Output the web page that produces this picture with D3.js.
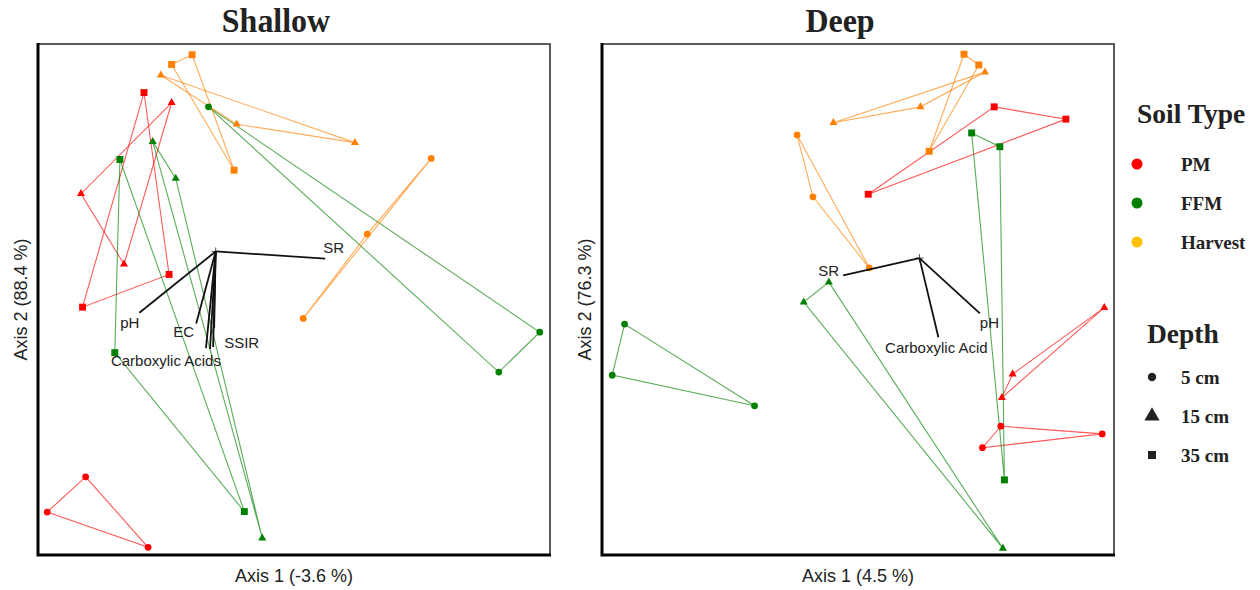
<!DOCTYPE html>
<html>
<head>
<meta charset="utf-8">
<script src="https://cdn.jsdelivr.net/npm/d3@7"></script>
<style>
  html, body { margin: 0; padding: 0; background: #fff; }
  svg { display: block; }
</style>
</head>
<body>
<svg id="chart" width="1260" height="590"></svg>
<script>
// ---- Data -----------------------------------------------------------------
// Each group (soil type x depth) has three replicate scores.
const soilTypes = ["PM", "FFM", "Harvest"];
const depthLabels = ["5 cm", "15 cm", "35 cm"];

const groupSoil  = ["PM", "PM", "PM", "FFM", "FFM", "FFM", "Harvest", "Harvest", "Harvest"];
const groupDepth = ["5 cm", "15 cm", "35 cm", "5 cm", "15 cm", "35 cm", "5 cm", "15 cm", "35 cm"];

// Shallow: site scores on axis 1 and axis 2, one triple per group
const shallowAxis1 = [
  [-0.407, -0.482, -0.285],
  [-0.239, -0.416, -0.332],
  [-0.293, -0.244, -0.413],
  [-0.167,  0.480,  0.400],
  [-0.276, -0.231, -0.062],
  [-0.340, -0.350, -0.097],
  [ 0.268,  0.143,  0.018],
  [-0.260, -0.112,  0.119],
  [-0.239, -0.199, -0.117]
];
const shallowAxis2 = [
  [-0.347, -0.416, -0.485],
  [ 0.385,  0.207,  0.069],
  [ 0.405,  0.049, -0.015],
  [ 0.377, -0.064, -0.142],
  [ 0.309,  0.237, -0.467],
  [ 0.274, -0.104, -0.415],
  [ 0.276,  0.128, -0.037],
  [ 0.439,  0.343,  0.307],
  [ 0.460,  0.479,  0.253]
];

// Deep: site scores
const deepAxis1 = [
  [ 0.279,  0.477,  0.243],
  [ 0.481,  0.302,  0.281],
  [ 0.020,  0.266,  0.406],
  [-0.456, -0.480, -0.202],
  [-0.057, -0.106,  0.283],
  [ 0.222,  0.277,  0.286],
  [-0.119, -0.088,  0.022],
  [-0.048,  0.122,  0.248],
  [ 0.207,  0.236,  0.139]
];
const deepAxis2 = [
  [-0.248, -0.263, -0.290],
  [-0.016, -0.146, -0.192],
  [ 0.206,  0.377,  0.353],
  [-0.048, -0.148, -0.208],
  [ 0.034, -0.005, -0.487],
  [ 0.326,  0.299, -0.353],
  [ 0.322,  0.201,  0.062],
  [ 0.346,  0.377,  0.445],
  [ 0.480,  0.459,  0.290]
];

// Environmental vectors (origin + tips)
const shallowVecOrigin = [-0.153, 0.094];
const shallowVecNames = ["SR", "pH", "EC", "SSIR", "Carboxylic Acids", "", ""];
const shallowVecAxis1 = [0.061, -0.302, -0.191, -0.156, -0.172, -0.164, -0.158];
const shallowVecAxis2 = [0.080, -0.026, -0.047, -0.056, -0.095, -0.097, -0.093];

const deepVecOrigin = [0.120, 0.081];
const deepVecNames = ["SR", "pH", "Carboxylic Acid"];
const deepVecAxis1 = [-0.029, 0.238, 0.157];
const deepVecAxis2 = [0.047, -0.027, -0.074];

const panelTitles = ["Shallow", "Deep"];
const axis1Labels = ["Axis 1 (-3.6 %)", "Axis 1 (4.5 %)"];
const axis2Labels = ["Axis 2 (88.4 %)", "Axis 2 (76.3 %)"];

// ---- Styling ----------------------------------------------------------------
const soilColor = d3.scaleOrdinal().domain(soilTypes).range(["#ff0000", "#008000", "#ff8000"]);
const legendSoilColor = d3.scaleOrdinal().domain(soilTypes).range(["#ff0000", "#008000", "#ffc000"]);
const depthSymbol = d3.scaleOrdinal().domain(depthLabels)
  .range([d3.symbolCircle, d3.symbolTriangle, d3.symbolSquare]);
const depthSize = d3.scaleOrdinal().domain(depthLabels).range([36, 28, 48]);

// label placement relative to a vector tip: [dx, dy, anchor]
const vecLabelStyle = [
  {
    "SR": [-2, -6, "start"], "pH": [0, 15, "end"], "EC": [-2, 13, "end"],
    "SSIR": [10, 20, "start"], "Carboxylic Acids": [-40, 18, "middle"]
  },
  {
    "SR": [-4, 1, "end"], "pH": [0, 15, "start"], "Carboxylic Acid": [-2, 16, "middle"]
  }
];

const sansFont = "'Liberation Sans', Arial, sans-serif";
const serifFont = "'Liberation Serif', 'Times New Roman', serif";

const svg = d3.select("#chart");

const panels = [
  { left: 38, axis1: shallowAxis1, axis2: shallowAxis2,
    origin: shallowVecOrigin, names: shallowVecNames, vx: shallowVecAxis1, vy: shallowVecAxis2 },
  { left: 602, axis1: deepAxis1, axis2: deepAxis2,
    origin: deepVecOrigin, names: deepVecNames, vx: deepVecAxis1, vy: deepVecAxis2 }
];

const plotTop = 44, plotBottom = 555, plotWidth = 512;

panels.forEach((p, pi) => {
  const x = d3.scaleLinear().domain([-0.5, 0.5]).range([p.left, p.left + plotWidth]);
  const y = d3.scaleLinear().domain([-0.5, 0.5]).range([plotBottom, plotTop]);
  const g = svg.append("g");

  // groups of points
  const groups = groupSoil.map((soil, i) => ({
    soil, depth: groupDepth[i],
    pts: p.axis1[i].map((v, k) => [v, p.axis2[i][k]])
  }));

  // polygons joining replicates
  const line = d3.line().x(d => x(d[0])).y(d => y(d[1]));
  g.selectAll("path.hull").data(groups).join("path")
    .attr("class", "hull")
    .attr("d", d => line(d.pts) + "Z")
    .attr("fill", "none")
    .attr("stroke", d => soilColor(d.soil))
    .attr("stroke-opacity", 0.65)
    .attr("stroke-width", 1.1);

  // site markers
  const pts = groups.flatMap(gr => gr.pts.map(pt => ({ soil: gr.soil, depth: gr.depth, pt })));
  g.selectAll("path.site").data(pts).join("path")
    .attr("class", "site")
    .attr("transform", d => `translate(${x(d.pt[0])},${y(d.pt[1])})`)
    .attr("d", d => d3.symbol(depthSymbol(d.depth), depthSize(d.depth))())
    .attr("fill", d => soilColor(d.soil));

  // environmental vectors
  const ox = x(p.origin[0]), oy = y(p.origin[1]);
  g.append("path")
    .attr("d", `M${ox - 4},${oy}H${ox + 4}M${ox},${oy - 4}V${oy + 4}`)
    .attr("stroke", "#555").attr("stroke-width", 1);
  const vecs = p.names.map((name, i) => ({ name, tx: p.vx[i], ty: p.vy[i] }));
  g.selectAll("line.vec").data(vecs).join("line")
    .attr("class", "vec")
    .attr("x1", ox).attr("y1", oy)
    .attr("x2", d => x(d.tx)).attr("y2", d => y(d.ty))
    .attr("stroke", "#111").attr("stroke-width", 1.8);
  g.selectAll("text.vec").data(vecs.filter(d => d.name)).join("text")
    .attr("class", "vec")
    .attr("x", d => x(d.tx) + vecLabelStyle[pi][d.name][0])
    .attr("y", d => y(d.ty) + vecLabelStyle[pi][d.name][1])
    .attr("text-anchor", d => vecLabelStyle[pi][d.name][2])
    .attr("font-family", sansFont).attr("font-size", 15).attr("fill", "#222")
    .text(d => d.name);

  // frame
  g.append("rect")
    .attr("x", p.left).attr("y", plotTop).attr("width", plotWidth).attr("height", plotBottom - plotTop)
    .attr("fill", "none").attr("stroke", "#333").attr("stroke-width", 1.6);
  g.append("path")
    .attr("d", `M${p.left},${plotTop - 1}V${plotBottom}H${p.left + plotWidth + 1}`)
    .attr("fill", "none").attr("stroke", "#000").attr("stroke-width", 3);

  // titles & axis labels
  g.append("text")
    .attr("transform", `translate(${p.left + plotWidth / 2 - 18},32) scale(0.94,1)`)
    .attr("text-anchor", "middle")
    .attr("font-family", serifFont).attr("font-weight", "bold").attr("font-size", 34)
    .attr("fill", "#222")
    .text(panelTitles[pi]);
  g.append("text")
    .attr("x", p.left + plotWidth / 2).attr("y", 582)
    .attr("text-anchor", "middle")
    .attr("font-family", sansFont).attr("font-size", 18).attr("fill", "#222")
    .text(axis1Labels[pi]);
  g.append("text")
    .attr("transform", `translate(${p.left - 11},${(plotTop + plotBottom) / 2}) rotate(-90)`)
    .attr("text-anchor", "middle")
    .attr("font-family", sansFont).attr("font-size", 18).attr("fill", "#222")
    .text(axis2Labels[pi]);
});

// ---- Legend -----------------------------------------------------------------
const legend = svg.append("g").attr("font-family", serifFont).attr("font-weight", "bold").attr("fill", "#222");
legend.append("text").attr("x", 1137).attr("y", 123).attr("font-size", 27.5).text("Soil Type");
const soilRows = d3.scalePoint().domain(soilTypes).range([164, 242]);
soilTypes.forEach(s => {
  legend.append("circle").attr("cx", 1137).attr("cy", soilRows(s)).attr("r", 5.5).attr("fill", legendSoilColor(s));
  legend.append("text").attr("x", 1181).attr("y", soilRows(s) + 7).attr("font-size", 19).text(s);
});

legend.append("text").attr("x", 1147).attr("y", 343).attr("font-size", 27.5).text("Depth");
const depthRows = d3.scalePoint().domain(depthLabels).range([377, 455]);
const legendSymSize = d3.scaleOrdinal().domain(depthLabels).range([55, 100, 64]);
depthLabels.forEach(dl => {
  legend.append("path")
    .attr("transform", `translate(1152,${depthRows(dl)})`)
    .attr("d", d3.symbol(depthSymbol(dl), legendSymSize(dl))())
    .attr("fill", "#222");
  legend.append("text").attr("x", 1181).attr("y", depthRows(dl) + 7).attr("font-size", 19).text(dl);
});
</script>
</body>
</html>
